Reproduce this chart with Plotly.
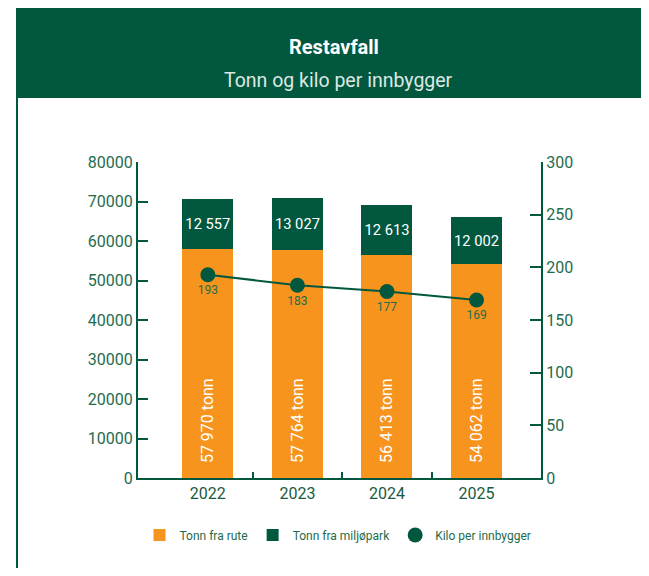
import plotly.graph_objects as go

years = ["2022", "2023", "2024", "2025"]
tonn_rute = [57970, 57764, 56413, 54062]
tonn_miljopark = [12557, 13027, 12613, 12002]
kilo_per_innbygger = [193, 183, 177, 169]

orange = "#F7941D"
dark_green = "#02583F"
text_green = "#1F6B4D"

# page has an 8px body margin, so the figure starts at (8, 8)
OFF = 8
W, H = 649 - OFF, 576 - 2 * OFF
L, T = 138 - OFF, 162 - OFF
R = W - (541 - OFF)
B = H - (478 - OFF)
pw, ph = W - L - R, H - T - B


def px_x(x):
    # x in page pixels -> paper coords
    return (x - OFF - L) / pw


def px_y(y):
    return (H - B - (y - OFF)) / ph


def fmt(v):
    return f"{v:,}".replace(",", " ")


xs = list(range(len(years)))

fig = go.Figure()

fig.add_trace(go.Bar(
    x=xs, y=tonn_rute, name="Tonn fra rute",
    marker=dict(color=orange, line=dict(width=0)),
    text=["\u00a0" * 3 + fmt(v) + " tonn" for v in tonn_rute],
    textposition="inside", insidetextanchor="start", textangle=-90,
    textfont=dict(color="white", size=16, family="Roboto"),
    hoverinfo="skip",
))
fig.add_trace(go.Bar(
    x=xs, y=tonn_miljopark, name="Tonn fra miljøpark",
    marker=dict(color=dark_green, line=dict(width=0)),
    text=[fmt(v) for v in tonn_miljopark],
    textposition="inside", insidetextanchor="middle", textangle=0,
    textfont=dict(color="white", size=15, family="Roboto"),
    hoverinfo="skip",
))
fig.add_trace(go.Scatter(
    x=xs, y=kilo_per_innbygger, yaxis="y2", mode="lines",
    line=dict(color=dark_green, width=2), showlegend=False, hoverinfo="skip",
))
fig.add_trace(go.Scatter(
    x=xs, y=kilo_per_innbygger, yaxis="y2", mode="markers+text",
    name="Kilo per innbygger",
    marker=dict(color=dark_green, size=15),
    text=[str(v) for v in kilo_per_innbygger], textposition="bottom center",
    textfont=dict(color=text_green, size=12, family="Roboto"),
    hoverinfo="skip",
))

shapes = [
    # header band
    dict(type="rect", xref="paper", yref="paper", x0=px_x(16), x1=px_x(670),
         y0=px_y(98), y1=px_y(0), fillcolor=dark_green, line=dict(width=0), layer="below"),
    # left border
    dict(type="line", xref="paper", yref="paper", x0=px_x(17), x1=px_x(17),
         y0=px_y(98), y1=px_y(600), line=dict(color=dark_green, width=2)),
]

annotations = [
    dict(text="<b>Restavfall</b>", xref="paper", yref="paper", x=px_x(334), y=px_y(33),
         showarrow=False, font=dict(color="white", size=20, family="Roboto")),
    dict(text="Tonn og kilo per innbygger", xref="paper", yref="paper", x=px_x(338), y=px_y(67),
         showarrow=False, font=dict(color="#DDE8E2", size=19.5, family="Roboto")),
]

fig.update_layout(
    width=W, height=H,
    margin=dict(l=L, r=R, t=T, b=B),
    paper_bgcolor="white", plot_bgcolor="white",
    barmode="stack", bargap=0.43,
    font=dict(family="Roboto", color=text_green),
    shapes=shapes, annotations=annotations,
    xaxis=dict(
        range=[-0.78, 3.72], tickvals=xs, ticktext=years,
        ticks="", showgrid=False, zeroline=False,
        showline=True, linecolor=dark_green, linewidth=2,
        tickfont=dict(size=16, color="#1A5A40", family="Roboto"),
        minor=dict(tickvals=[0.5, 1.5, 2.5], ticks="inside", ticklen=6,
                   tickcolor=dark_green, tickwidth=2),
    ),
    yaxis=dict(
        range=[0, 80000], dtick=10000, tickformat="d",
        ticks="inside", ticklen=10, tickwidth=2, tickcolor=dark_green,
        showgrid=False, zeroline=False,
        showline=True, linecolor=dark_green, linewidth=2,
        tickfont=dict(size=16, color=text_green, family="Roboto"),
    ),
    yaxis2=dict(
        overlaying="y", side="right", range=[0, 300], dtick=50,
        ticks="inside", ticklen=11, tickwidth=2, tickcolor=dark_green,
        showgrid=False, zeroline=False,
        showline=True, linecolor=dark_green, linewidth=2,
        tickfont=dict(size=16, color=text_green, family="Roboto"),
    ),
    legend=dict(
        orientation="h", x=px_x(338), xanchor="center", y=px_y(535), yanchor="middle",
        font=dict(size=12, color=text_green, family="Roboto"),
        bgcolor="rgba(0,0,0,0)", traceorder="normal", itemwidth=30,
    ),
)

fig.write_html("out.html")
